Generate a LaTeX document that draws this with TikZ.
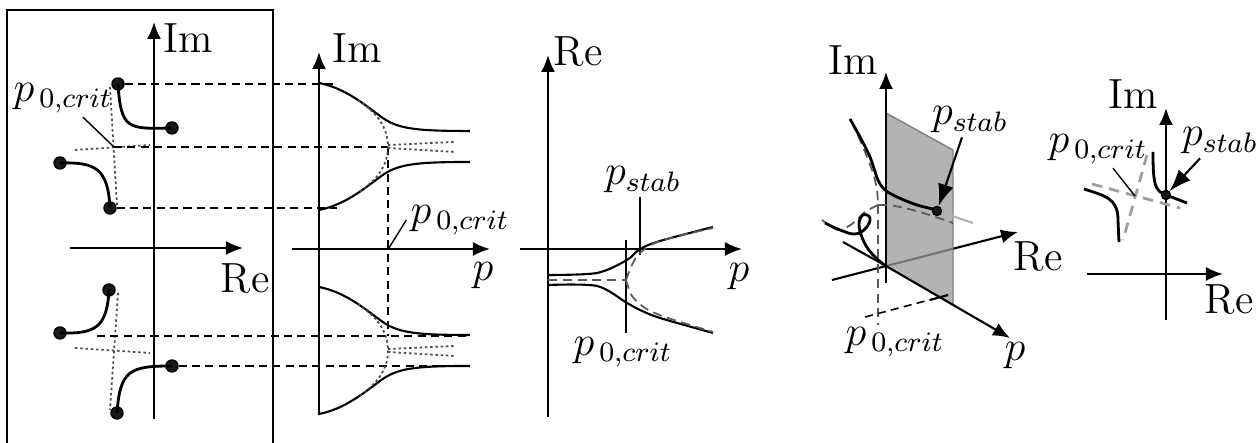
\documentclass[tikz,border=0pt]{standalone}
\usetikzlibrary{arrows.meta}

\tikzset{
  axis/.style={semithick, -{Latex[length=1.7mm,width=1.4mm]}},
  branch/.style={thick},
  guide/.style={line width=0.45pt, dash pattern=on 2.3pt off 1.5pt},
  asym/.style={black!70, line width=0.5pt, dash pattern=on 0.7pt off 0.8pt},
  dashgray/.style={black!65, line width=0.5pt, dash pattern=on 2.6pt off 1.6pt},
  critline/.style={gray!75, line width=0.8pt, dash pattern=on 3pt off 2pt},
  root/.style={circle, draw, fill=black!90, inner sep=0pt, minimum size=1.2mm},
  pointer/.style={semithick, -{Latex[length=2.2mm,width=1.6mm]}},
  lbl/.style={inner sep=1pt, font=\fontsize{12pt}{14pt}\selectfont},
}

\begin{document}
\begin{tikzpicture}
  \useasboundingbox (0,0) rectangle (12.6,-4.43);

  % root locus in the complex plane
  \draw[semithick] (0.07,-0.10) rectangle (2.73,-4.70);
  \draw[axis] (1.54,-4.19) -- (1.54,-0.22);
  \node[lbl] (imA) at (1.88,-0.38) {Im};
  \draw[axis] (0.70,-2.48) -- (2.43,-2.48);
  \node[lbl] (reA) at (2.45,-2.79) {Re};
  \draw[asym] (1.10,-0.87) -- (1.17,-2.05);
  \draw[asym] (0.75,-1.50) -- (1.50,-1.45);
  \draw[asym] (1.18,-2.93) -- (1.10,-4.10);
  \draw[asym] (0.75,-3.48) -- (1.50,-3.53);
  \coordinate (xa) at (1.14,-1.47);
  \node[root] (a1) at (1.18,-0.84) {};
  \node[root] (a2) at (1.72,-1.28) {};
  \node[root] (b1) at (0.60,-1.63) {};
  \node[root] (b2) at (1.10,-2.08) {};
  \node[root] (c1) at (1.09,-2.90) {};
  \node[root] (c2) at (0.60,-3.33) {};
  \node[root] (d1) at (1.72,-3.66) {};
  \node[root] (d2) at (1.17,-4.13) {};
  \draw[branch] (a1.center) .. controls (1.21,-1.30) and (1.28,-1.29) .. (a2.center);
  \draw[branch] (b1.center) .. controls (0.95,-1.62) and (1.08,-1.68) .. (b2.center);
  \draw[branch] (c2.center) .. controls (0.95,-3.34) and (1.07,-3.28) .. (c1.center);
  \draw[branch] (d2.center) .. controls (1.20,-3.70) and (1.30,-3.66) .. (d1.center);
  \node[lbl] (p0A) at (0.63,-0.98) {$p_{\,0,crit}$};
  \draw[thin] (xa) -- (p0A);

  % imaginary part over p
  \coordinate (xb) at (3.88,-1.47);
  \draw[guide] (a1) -- (3.33,-0.84);
  \draw[guide] (xa) -- (xb);
  \draw[guide] (b2) -- (3.37,-2.08);
  \draw[guide] (0.97,-3.36) -- (4.70,-3.36);
  \draw[guide] (d1) -- (4.70,-3.66);
  \draw[guide] (xb) -- (3.88,-3.36);
  \foreach \dy in {0,-2.04} {
    \begin{scope}[yshift=\dy cm]
      \draw[semithick] (3.19,-0.83) .. controls (3.45,-0.88) and (3.65,-1.05) .. (3.80,-1.16)
        .. controls (3.97,-1.29) and (4.15,-1.31) .. (4.70,-1.31);
      \draw[semithick] (3.19,-2.10) .. controls (3.45,-2.05) and (3.65,-1.88) .. (3.80,-1.77)
        .. controls (3.97,-1.64) and (4.15,-1.62) .. (4.70,-1.62);
      \draw[asym] (3.58,-1.00) .. controls (3.80,-1.15) and (3.88,-1.30) .. (3.88,-1.465)
        .. controls (3.88,-1.63) and (3.80,-1.78) .. (3.58,-1.93);
      \draw[asym] (3.88,-1.45) -- (4.55,-1.42);
      \draw[asym] (3.88,-1.48) -- (4.55,-1.52);
    \end{scope}
  }
  \draw[axis] (3.19,-4.15) -- (3.19,-0.52);
  \node[lbl] (imB) at (3.57,-0.48) {Im};
  \draw[axis] (2.92,-2.49) -- (4.90,-2.49);
  \node[lbl] (pB) at (4.83,-2.76) {$p$};
  \coordinate (cb) at (3.89,-2.48);
  \node[lbl] (p0B) at (4.60,-2.20) {$p_{\,0,crit}$};
  \draw[thin] (cb) -- (p0B.west);

  % real part over p
  \draw[axis] (5.48,-4.17) -- (5.48,-0.55);
  \node[lbl] (reC) at (5.78,-0.52) {Re};
  \draw[axis] (5.20,-2.49) -- (7.42,-2.49);
  \node[lbl] (pC) at (7.39,-2.77) {$p$};
  \node[lbl] (p0C) at (6.23,-3.52) {$p_{\,0,crit}$};
  \node[lbl] (psC) at (6.43,-1.80) {$p_{stab}$};
  \coordinate (critC) at (6.26,-2.40);
  \coordinate (stabC) at (6.40,-2.55);
  \draw[semithick] (critC) -- (critC |- p0C.north);
  \draw[semithick] (stabC) -- (stabC |- psC.south);
  \draw[semithick] plot[smooth] coordinates {(5.48,-2.75) (5.97,-2.73) (6.27,-2.60) (6.40,-2.49) (6.60,-2.41) (7.13,-2.27)};
  \draw[semithick] plot[smooth] coordinates {(5.48,-2.85) (5.97,-2.86) (6.27,-3.03) (6.40,-3.10) (6.60,-3.18) (7.13,-3.33)};
  \draw[dashgray] (5.48,-2.80) -- (6.26,-2.80);
  \draw[dashgray] plot[smooth] coordinates {(6.26,-2.80) (6.32,-2.65) (6.40,-2.53) (6.60,-2.41) (7.13,-2.28)};
  \draw[dashgray] plot[smooth] coordinates {(6.26,-2.80) (6.32,-2.96) (6.45,-3.08) (6.65,-3.17) (7.13,-3.32)};

  % three-dimensional view
  \coordinate (O) at (8.86,-2.66);
  \draw[axis] (8.32,-2.80) -- (10.18,-2.32);
  \node[lbl] (reD) at (10.38,-2.57) {Re};
  \fill[black!40, opacity=0.75] (8.86,-1.13) -- (9.53,-1.50) -- (9.53,-3.04) -- (O) -- cycle;
  \draw[gray, thin] (8.86,-1.13) -- (9.53,-1.50) -- (9.53,-3.04);
  \draw[axis] (8.86,-2.83) -- (8.86,-0.72);
  \node[lbl] (imD) at (8.53,-0.60) {Im};
  \draw[axis] (O) -- (10.10,-3.38);
  \node[lbl] (pD) at (10.15,-3.56) {$p$};
  \draw[dashgray] (8.78,-2.05) -- (8.78,-3.25);
  \draw[guide] (8.65,-3.17) -- (9.48,-2.95);
  \draw[semithick] (9.30,-3.00) -- (9.48,-2.95);
  \node[lbl] (p0D) at (8.95,-3.42) {$p_{\,0,crit}$};
  \draw[gray!60, semithick] (9.37,-2.11) -- (9.73,-2.23);
  \draw[dashgray] plot[smooth] coordinates {(8.52,-1.22) (8.63,-1.47) (8.73,-1.73) (8.77,-1.90) (8.78,-2.05)};
  \draw[dashgray] plot[smooth] coordinates {(8.78,-2.05) (8.95,-2.06) (9.20,-2.12) (9.53,-2.23)};
  \draw[dashgray] plot[smooth] coordinates {(8.78,-2.05) (8.65,-2.12) (8.52,-2.24) (8.38,-2.30) (8.22,-2.20)};
  \draw[branch] plot[smooth] coordinates {(8.50,-1.19) (8.60,-1.37) (8.70,-1.57) (8.78,-1.80) (8.85,-1.90) (8.97,-1.97) (9.17,-2.05) (9.37,-2.10)};
  \draw[branch] plot[smooth, tension=0.7] coordinates {(8.25,-2.23) (8.40,-2.30) (8.55,-2.34) (8.66,-2.28) (8.70,-2.18) (8.63,-2.15) (8.59,-2.25) (8.64,-2.42) (8.74,-2.56) (8.86,-2.66)};
  \draw[semithick] (8.43,-2.42) -- (O);
  \node[root, minimum size=0.9mm] (stabD) at (9.37,-2.11) {};
  \node[lbl] (psD) at (9.70,-1.20) {$p_{stab}$};
  \draw[pointer] ([xshift=-0.08cm]psD.south) -- (stabD);

  % complex plane at p_stab
  \draw[axis] (10.87,-2.74) -- (12.23,-2.74);
  \node[lbl] (reE) at (12.29,-3.00) {Re};
  \draw[axis] (11.66,-3.20) -- (11.66,-1.08);
  \node[lbl] (imE) at (11.33,-0.94) {Im};
  \draw[critline] (10.92,-1.84) -- (11.80,-2.08);
  \draw[critline] (11.47,-1.55) -- (11.23,-2.40);
  \coordinate (critE) at (11.35,-1.96);
  \draw[branch] (11.53,-1.52) .. controls (11.53,-1.85) and (11.55,-1.91) .. (11.66,-1.95) -- (11.87,-2.03);
  \draw[branch] (10.84,-1.89) .. controls (11.05,-1.96) and (11.18,-1.98) .. (11.18,-2.20) -- (11.19,-2.42);
  \node[root, minimum size=0.9mm] (stabE) at (11.66,-1.95) {};
  \node[lbl] (psE) at (12.20,-1.41) {$p_{stab}$};
  \draw[pointer] ([xshift=-0.2cm]psE.south) -- (stabE);
  \node[lbl] (p0E) at (10.98,-1.49) {$p_{\,0,crit}$};
  \draw[thin] ([xshift=0.15cm]p0E.south) -- (critE);
\end{tikzpicture}
\end{document}
